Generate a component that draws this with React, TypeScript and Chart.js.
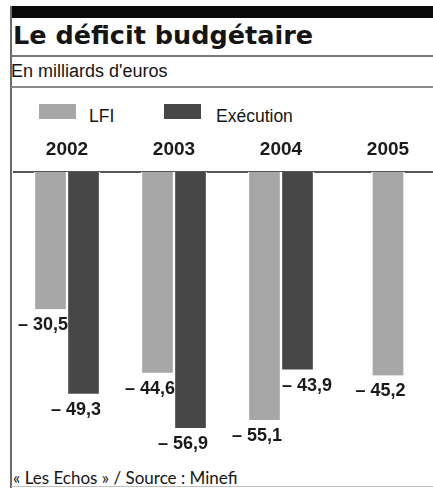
import { useEffect, useRef } from "react";
import { Chart, registerables } from "chart.js";

Chart.register(...registerables);

const title = "Le déficit budgétaire";
const subtitle = "En milliards d'euros";
const source = "« Les Echos » / Source : Minefi";
const years = ["2002", "2003", "2004", "2005"];
const seriesNames = ["LFI", "Exécution"];
const lfi: (number | null)[] = [-30.5, -44.6, -55.1, -45.2];
const execution: (number | null)[] = [-49.3, -56.9, -43.9, null];
const colors = ["#a7a7a7", "#474747"];

const LABEL_FONT = "'Liberation Sans', Arial, sans-serif";

const fmt = (v: number) => "– " + Math.abs(v).toFixed(1).replace(".", ",");

const labelPlugin = {
  id: "barLabels",
  afterDatasetsDraw(chart: any) {
    const ctx = chart.ctx;
    ctx.save();
    ctx.font = `bold 18px ${LABEL_FONT}`;
    ctx.fillStyle = "#1a1a1a";
    ctx.textBaseline = "middle";
    chart.data.datasets.forEach((ds: any, di: number) => {
      const meta = chart.getDatasetMeta(di);
      meta.data.forEach((bar: any, i: number) => {
        const v = ds.data[i];
        if (v == null) return;
        const { x, y, width } = bar.getProps(["x", "y", "width"], true);
        const other = di === 1 ? chart.data.datasets[0].data[i] : null;
        let tx: number;
        if (di === 1 && other != null && other < v) {
          ctx.textAlign = "left";
          tx = x - width / 2 + 1;
        } else {
          ctx.textAlign = "right";
          tx = x + width / 2 + 1;
        }
        ctx.fillText(fmt(v), tx, y + 16);
      });
    });
    ctx.restore();
  },
};

function BarChart() {
  const ref = useRef<HTMLCanvasElement>(null);
  useEffect(() => {
    if (!ref.current) return;
    const barCommon = {
      borderColor: "#ffffff",
      borderWidth: { left: 1.5, right: 1.5, top: 0, bottom: 0 },
      borderSkipped: false,
      barThickness: 33,
      skipNull: true,
    };
    const chart = new Chart(ref.current, {
      type: "bar",
      data: {
        labels: years,
        datasets: [
          { label: seriesNames[0], data: lfi, backgroundColor: colors[0], ...barCommon },
          { label: seriesNames[1], data: execution, backgroundColor: colors[1], ...barCommon },
        ],
      },
      options: {
        responsive: false,
        animation: false,
        layout: { padding: { left: 13.5, right: 0.5, top: 8, bottom: 20 } },
        plugins: { legend: { display: false }, tooltip: { enabled: false } },
        scales: {
          x: {
            position: "top",
            grid: { display: false, drawTicks: false },
            border: { display: true, color: "#555555", width: 2 },
            ticks: {
              font: { family: LABEL_FONT, weight: "bold", size: 19 },
              color: "#1a1a1a",
              padding: 10.6,
            },
          },
          y: { display: false, min: -60, max: 0 },
        },
      },
      plugins: [labelPlugin],
    } as any);
    return () => chart.destroy();
  }, []);
  return (
    <canvas
      ref={ref}
      width={442}
      height={342}
      style={{ position: "absolute", left: 0, top: 120, width: 442, height: 342 }}
    />
  );
}

export default function App() {
  const abs = (s: any) => ({ position: "absolute" as const, ...s });
  return (
    <div
      style={{
        position: "absolute",
        left: 0,
        top: 0,
        width: 433,
        height: 488,
        overflow: "hidden",
        background: "#ffffff",
        color: "#151515",
      }}
    >
      <div style={abs({ left: 11, top: 6, width: 422, height: 12, background: "#0a0a0a" })} />
      <div style={abs({ left: 10, top: 6, width: 2, height: 482, background: "#6a6a6a" })} />
      <div
        style={abs({
          left: 13,
          top: 23,
          fontFamily: "'DejaVu Sans', sans-serif",
          fontWeight: 700,
          fontSize: 25.5,
          lineHeight: "25.5px",
          whiteSpace: "nowrap",
        })}
      >
        {title}
      </div>
      <div style={abs({ left: 11, top: 55, width: 422, height: 2, background: "#7a7a7a" })} />
      <div
        style={abs({
          left: 11,
          top: 62,
          fontFamily: LABEL_FONT,
          fontSize: 18,
          lineHeight: "18px",
          whiteSpace: "nowrap",
        })}
      >
        {subtitle}
      </div>
      <div style={abs({ left: 11, top: 86, width: 422, height: 2, background: "#8a8a8a" })} />
      {seriesNames.map((n, i) => (
        <div key={n}>
          <div
            style={abs({
              left: i === 0 ? 39 : 164,
              top: 104,
              width: 37,
              height: 15,
              background: colors[i],
            })}
          />
          <div
            style={abs({
              left: i === 0 ? 89 : 216,
              top: 108,
              fontFamily: LABEL_FONT,
              fontSize: 17.5,
              lineHeight: "17.5px",
              whiteSpace: "nowrap",
            })}
          >
            {n}
          </div>
        </div>
      ))}
      <BarChart />
      <div
        style={abs({
          left: 13,
          top: 469,
          fontFamily: "Lato, sans-serif",
          fontSize: 17,
          lineHeight: "17px",
          whiteSpace: "nowrap",
        })}
      >
        {source}
      </div>
      <div style={abs({ left: 11, top: 486, width: 422, height: 1, background: "#c0c0c0" })} />
    </div>
  );
}
